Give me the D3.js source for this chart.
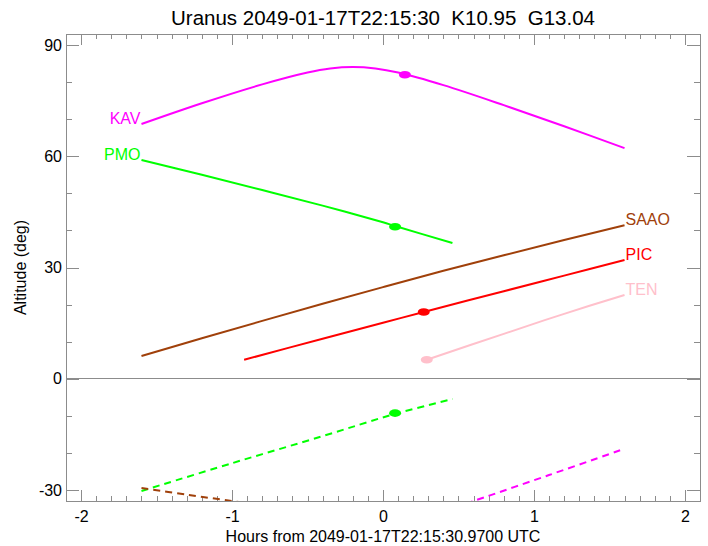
<!DOCTYPE html>
<html>
<head>
    <meta charset="utf-8">
    <title>Uranus altitude</title>
    <script src="https://d3js.org/d3.v7.min.js"></script>
    <style>
        body { margin: 0; background: #fff; }
        text { font-family: "Liberation Sans", Arial, sans-serif; white-space: pre; }
        .frame, .tick-line { stroke: #8c8c8c; stroke-width: 1; fill: none; shape-rendering: crispEdges; }
        .curve { fill: none; stroke-width: 2; }
    </style>
</head>
<body>
<div id="chart"></div>
<script>
    // hours from reference time, altitude in degrees
    const kavHours = [-1.6, -1.2, -0.8, -0.5, -0.35, -0.2, -0.05, 0.1, 0.4, 0.8, 1.2, 1.6];
    const kavAlt = [68.7, 74.3, 79.4, 82.6, 83.7, 84.1, 83.7, 82.6, 79.2, 73.8, 68.1, 62.2];
    const pmoHours = [-1.6, -1.2, -0.8, -0.4, 0, 0.08, 0.46];
    const pmoAlt = [59.0, 55.0, 50.9, 46.7, 42.2, 41.2, 36.6];
    const saaoHours = [-1.6, -1.2, -0.8, -0.4, 0, 0.4, 0.8, 1.2, 1.6];
    const saaoAlt = [6.1, 10.9, 15.6, 20.2, 24.7, 29.1, 33.3, 37.4, 41.4];
    const picHours = [-0.92, -0.4, 0, 0.27, 0.8, 1.2, 1.6];
    const picAlt = [5.1, 10.8, 15.1, 18.0, 23.6, 27.8, 32.0];
    const tenHours = [0.29, 0.8, 1.2, 1.6];
    const tenAlt = [5.1, 12.1, 17.5, 22.6];

    // dashed tracks
    const pmoDashHours = [-1.6, -1.0, -0.4, 0.08, 0.46];
    const pmoDashAlt = [-30.3, -22.8, -15.5, -9.5, -5.5];
    const saaoDashHours = [-1.6, -1.3, -1.0, -0.9];
    const saaoDashAlt = [-29.5, -31.3, -33.0, -33.6];
    const kavDashHours = [0.55, 1.1, 1.6];
    const kavDashAlt = [-33.7, -26.0, -18.9];

    // current position markers
    const markerSite = ["KAV", "PMO", "PIC", "TEN", "PMO"];
    const markerHours = [0.145, 0.08, 0.27, 0.29, 0.08];
    const markerAlt = [82.0, 41.0, 18.0, 5.1, -9.3];

    const siteColors = { KAV: "#ff00ff", PMO: "#00ff00", SAAO: "#a0400a", PIC: "#ff0000", TEN: "#ffc0cb" };

    const xTicks = [-2, -1, 0, 1, 2];
    const yTicks = [-30, 0, 30, 60, 90];

    const width = 708, height = 546;
    const margin = { top: 34, right: 8, bottom: 45, left: 66 };

    const svg = d3.select("#chart").append("svg")
        .attr("width", width)
        .attr("height", height);

    const x = d3.scaleLinear().domain([-2.1, 2.1]).range([margin.left, width - margin.right]);
    const y = d3.scaleLinear().domain([-33, 93]).range([height - margin.bottom, margin.top]);

    svg.append("defs").append("clipPath").attr("id", "plot-clip")
        .append("rect")
        .attr("x", x(-2.1)).attr("y", y(93))
        .attr("width", x(2.1) - x(-2.1)).attr("height", y(-33) - y(93));

    // frame with inward ticks on all four sides
    const xMinor = d3.range(-21, 22).map(d => d / 10);
    const yMinor = d3.range(-30, 91, 10);
    const plain = d => String(d);

    svg.append("g").attr("transform", `translate(0,${y(-33)})`)
        .call(d3.axisBottom(x).tickValues(xMinor).tickSize(-5).tickFormat(""))
        .call(g => g.selectAll("line").attr("class", "tick-line"));
    svg.append("g").attr("transform", `translate(0,${y(-33)})`)
        .call(d3.axisBottom(x).tickValues(xTicks).tickSize(-11).tickPadding(10).tickFormat(plain))
        .call(g => g.selectAll("line").attr("class", "tick-line"))
        .call(g => g.selectAll("text").attr("font-size", 16).attr("fill", "#000").attr("font-family", "Liberation Sans, Arial, sans-serif"));
    svg.append("g").attr("transform", `translate(0,${y(93)})`)
        .call(d3.axisTop(x).tickValues(xMinor).tickSize(-5).tickFormat(""))
        .call(g => g.selectAll("line").attr("class", "tick-line"));
    svg.append("g").attr("transform", `translate(0,${y(93)})`)
        .call(d3.axisTop(x).tickValues(xTicks).tickSize(-11).tickFormat(""))
        .call(g => g.selectAll("line").attr("class", "tick-line"));

    svg.append("g").attr("transform", `translate(${x(-2.1)},0)`)
        .call(d3.axisLeft(y).tickValues(yMinor).tickSize(-6).tickFormat(""))
        .call(g => g.selectAll("line").attr("class", "tick-line"));
    svg.append("g").attr("transform", `translate(${x(-2.1)},0)`)
        .call(d3.axisLeft(y).tickValues(yTicks).tickSize(-13).tickPadding(4).tickFormat(plain))
        .call(g => g.selectAll("line").attr("class", "tick-line"))
        .call(g => g.selectAll("text").attr("font-size", 16).attr("fill", "#000").attr("font-family", "Liberation Sans, Arial, sans-serif"));
    svg.append("g").attr("transform", `translate(${x(2.1)},0)`)
        .call(d3.axisRight(y).tickValues(yMinor).tickSize(-6).tickFormat(""))
        .call(g => g.selectAll("line").attr("class", "tick-line"));
    svg.append("g").attr("transform", `translate(${x(2.1)},0)`)
        .call(d3.axisRight(y).tickValues(yTicks).tickSize(-13).tickFormat(""))
        .call(g => g.selectAll("line").attr("class", "tick-line"));

    svg.selectAll(".domain").remove();
    svg.append("rect").attr("class", "frame")
        .attr("x", x(-2.1)).attr("y", y(93))
        .attr("width", x(2.1) - x(-2.1)).attr("height", y(-33) - y(93));

    // horizon line
    svg.append("line").attr("class", "frame")
        .attr("x1", x(-2.1)).attr("x2", x(2.1))
        .attr("y1", y(0)).attr("y2", y(0));

    const plot = svg.append("g").attr("clip-path", "url(#plot-clip)");
    const line = d3.line().x(d => x(d[0])).y(d => y(d[1])).curve(d3.curveCatmullRom);

    function track(hours, alt, color, dashed) {
        plot.append("path")
            .datum(d3.zip(hours, alt))
            .attr("class", "curve")
            .attr("stroke", color)
            .attr("stroke-dasharray", dashed ? "7,5" : null)
            .attr("d", line);
    }

    track(kavHours, kavAlt, siteColors.KAV, false);
    track(pmoHours, pmoAlt, siteColors.PMO, false);
    track(saaoHours, saaoAlt, siteColors.SAAO, false);
    track(picHours, picAlt, siteColors.PIC, false);
    track(tenHours, tenAlt, siteColors.TEN, false);
    track(pmoDashHours, pmoDashAlt, siteColors.PMO, true);
    track(saaoDashHours, saaoDashAlt, siteColors.SAAO, true);
    track(kavDashHours, kavDashAlt, siteColors.KAV, true);

    plot.selectAll(".marker")
        .data(d3.range(markerSite.length))
        .join("ellipse")
        .attr("class", "marker")
        .attr("cx", i => x(markerHours[i]))
        .attr("cy", i => y(markerAlt[i]))
        .attr("rx", 6)
        .attr("ry", 3.8)
        .attr("fill", i => siteColors[markerSite[i]]);

    // site labels: left of start for KAV / PMO, right of end for the others
    const leftLabels = [["KAV", kavHours, kavAlt], ["PMO", pmoHours, pmoAlt]];
    const rightLabels = [["SAAO", saaoHours, saaoAlt], ["PIC", picHours, picAlt], ["TEN", tenHours, tenAlt]];

    svg.selectAll(".label-left")
        .data(leftLabels)
        .join("text")
        .attr("x", d => x(d[1][0]) - 1)
        .attr("y", d => y(d[2][0]))
        .attr("text-anchor", "end")
        .attr("font-size", 16)
        .attr("fill", d => siteColors[d[0]])
        .text(d => d[0]);

    svg.selectAll(".label-right")
        .data(rightLabels)
        .join("text")
        .attr("x", d => x(d[1][d[1].length - 1]) + 1)
        .attr("y", d => y(d[2][d[2].length - 1]))
        .attr("text-anchor", "start")
        .attr("font-size", 16)
        .attr("fill", d => siteColors[d[0]])
        .text(d => d[0]);

    svg.append("text")
        .attr("x", x(0)).attr("y", 25)
        .attr("text-anchor", "middle")
        .attr("font-size", 20.5)
        .text("Uranus 2049-01-17T22:15:30  K10.95  G13.04");

    svg.append("text")
        .attr("x", x(0)).attr("y", 542)
        .attr("text-anchor", "middle")
        .attr("font-size", 16)
        .text("Hours from 2049-01-17T22:15:30.9700 UTC");

    svg.append("text")
        .attr("transform", `translate(26,${y(30)}) rotate(-90)`)
        .attr("text-anchor", "middle")
        .attr("font-size", 16)
        .text("Altitude (deg)");
</script>
</body>
</html>
